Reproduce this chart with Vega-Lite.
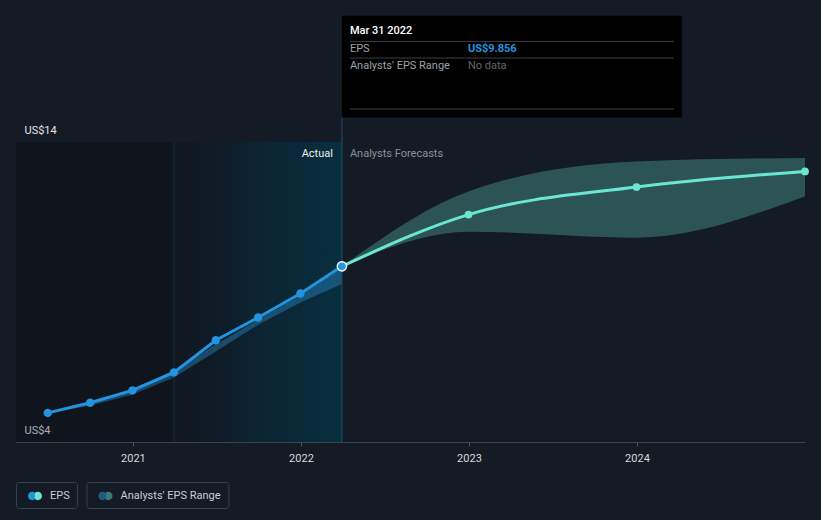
{
  "$schema": "https://vega.github.io/schema/vega-lite/v6.json",
  "width": 789,
  "height": 300,
  "autosize": "none",
  "padding": {"left": 16, "top": 142, "right": 16, "bottom": 78},
  "background": "#151b25",
  "config": {
    "view": {"stroke": null},
    "font": "Roboto",
    "text": {"font": "Roboto"}
  },
  "datasets": {
    "regions": [
      {"start": "2020-04-22", "end": "2021-03-31", "kind": "past"},
      {"start": "2021-03-31", "end": "2022-03-31", "kind": "year"}
    ],
    "eps": [
      {"date": "2020-06-30", "v": 4.97},
      {"date": "2020-09-30", "v": 5.31},
      {"date": "2020-12-31", "v": 5.72},
      {"date": "2021-03-31", "v": 6.32},
      {"date": "2021-06-30", "v": 7.39},
      {"date": "2021-09-30", "v": 8.15},
      {"date": "2021-12-31", "v": 8.95},
      {"date": "2022-03-31", "v": 9.856}
    ],
    "pastband": [
      {"date": "2020-06-30", "lo": 4.97, "hi": 4.97},
      {"date": "2020-09-30", "lo": 5.21, "hi": 5.33},
      {"date": "2020-12-31", "lo": 5.58, "hi": 5.78},
      {"date": "2021-03-31", "lo": 6.15, "hi": 6.38},
      {"date": "2021-06-30", "lo": 7.02, "hi": 7.25},
      {"date": "2021-09-30", "lo": 7.91, "hi": 8.08},
      {"date": "2021-12-31", "lo": 8.65, "hi": 8.88},
      {"date": "2022-03-31", "lo": 9.27, "hi": 9.83}
    ],
    "forecast": [
      {"date": "2022-03-31", "v": 9.856, "series": "EPS", "first": true},
      {"date": "2022-12-31", "v": 11.58, "series": "EPS", "first": false},
      {"date": "2023-12-31", "v": 12.5, "series": "EPS", "first": false},
      {"date": "2024-12-31", "v": 13.02, "series": "EPS", "first": false}
    ],
    "band": [
      {"date": "2022-03-31", "lo": 9.856, "hi": 9.856, "series": "Analysts' EPS Range", "kind": "forecast"},
      {"date": "2022-12-31", "lo": 11.01, "hi": 12.35, "series": "Analysts' EPS Range", "kind": "forecast"},
      {"date": "2023-12-31", "lo": 10.81, "hi": 13.35, "series": "Analysts' EPS Range", "kind": "forecast"},
      {"date": "2024-12-31", "lo": 12.19, "hi": 13.47, "series": "Analysts' EPS Range", "kind": "forecast"}
    ],
    "labels": [
      {"date": "2022-03-31", "text": "Actual", "side": "left"},
      {"date": "2022-03-31", "text": "Analysts Forecasts", "side": "right"}
    ],
    "tip": [
      {"date": "2022-03-31", "eps": 9.856, "title": "Mar 31 2022", "k1": "EPS", "value": "US$9.856", "k2": "Analysts' EPS Range", "range": "No data"}
    ]
  },
  "layer": [
    {
      "data": {"name": "regions"},
      "transform": [{"filter": "datum.kind == 'past'"}],
      "mark": {"type": "rect", "color": "rgba(3,3,8,0.26)"},
      "encoding": {
        "x": {
          "field": "start", "type": "temporal",
          "scale": {"type": "utc", "domain": [1587513600000, 1735603200000]},
          "axis": {
            "values": [1609459200000, 1640995200000, 1672531200000, 1704067200000],
            "format": "%Y", "formatType": "utc", "title": null, "grid": false,
            "domainColor": "#3d434d", "tickColor": "#4a505a", "tickSize": 4,
            "labelColor": "#d5d8dc", "labelFontSize": 11, "labelPadding": 6, "labelFlush": false
          }
        },
        "x2": {"field": "end"},
        "y": {
          "datum": 4, "type": "quantitative",
          "scale": {"domain": [4, 14], "nice": false, "zero": false},
          "axis": {
            "values": [4, 5, 10, 14], "title": null, "domain": false, "ticks": false,
            "labelExpr": "datum.value == 14 ? 'US$14' : datum.value == 4 ? 'US$4' : ''",
            "labelAlign": "left", "labelPadding": -8, "labelBaseline": "middle", "labelOffset": -12,
            "labelColor": "#e3e5e8", "labelFontSize": 11, "labelOverlap": false,
            "gridColor": {"condition": {"test": "datum.value == 4", "value": "transparent"}, "value": "#343a45"}
          }
        },
        "y2": {"datum": 14}
      }
    },
    {
      "data": {"name": "regions"},
      "transform": [{"filter": "datum.kind == 'year'"}],
      "mark": {
        "type": "rect",
        "color": {
          "gradient": "linear", "x1": 0, "x2": 1, "y1": 0, "y2": 0,
          "stops": [
            {"offset": 0, "color": "rgba(0,12,22,0.22)"},
            {"offset": 0.5, "color": "rgba(0,48,66,0.45)"},
            {"offset": 1, "color": "rgba(0,58,76,0.66)"}
          ]
        }
      },
      "encoding": {
        "x": {"field": "start", "type": "temporal"},
        "x2": {"field": "end"},
        "y": {"datum": 4, "type": "quantitative"},
        "y2": {"datum": 14}
      }
    },
    {
      "data": {"name": "regions"},
      "transform": [{"filter": "datum.kind == 'year'"}],
      "mark": {"type": "rule", "color": "#13303e", "strokeWidth": 1},
      "encoding": {
        "x": {"field": "start", "type": "temporal"},
        "y": {"datum": 4, "type": "quantitative"},
        "y2": {"datum": 14}
      }
    },
    {
      "data": {"name": "pastband"},
      "mark": {"type": "area", "color": "#2a84c0", "opacity": 0.45, "interpolate": "linear"},
      "encoding": {
        "x": {"field": "date", "type": "temporal"},
        "y": {"field": "lo", "type": "quantitative"},
        "y2": {"field": "hi"}
      }
    },
    {
      "data": {"name": "band"},
      "mark": {"type": "area", "fillOpacity": 0.3, "interpolate": "monotone"},
      "encoding": {
        "x": {"field": "date", "type": "temporal"},
        "y": {"field": "lo", "type": "quantitative"},
        "y2": {"field": "hi"},
        "fill": {
          "field": "kind", "type": "nominal",
          "scale": {"domain": ["forecast"], "range": ["#68dcc5"]},
          "legend": null
        },
        "opacity": {
          "field": "series", "type": "nominal",
          "scale": {"domain": ["Analysts' EPS Range"], "range": [1]},
          "legend": {
            "title": null, "orient": "none", "legendX": 70.5, "legendY": 340,
            "symbolType": "M-1,0A0.6,0.6,0,1,0,0.2,0A0.6,0.6,0,1,0,-1,0ZM-0.2,0A0.6,0.6,0,1,0,1,0A0.6,0.6,0,1,0,-0.2,0Z",
            "symbolSize": 196, "strokeColor": "#3b414b", "cornerRadius": 3, "padding": 7,
            "fillColor": "#151b25",
            "symbolFillColor": "#3b7a73",
            "labelColor": "#c9ccd1", "labelFontSize": 11, "labelFont": "Roboto", "symbolOffset": 5, "labelOffset": 8,
            "labelExpr": "datum.label + '\u00a0\u00a0\u00a0'",
            "encode": {
              "symbols": {
                "update": {
                  "fill": {"value": {"gradient": "linear", "x1": 0, "x2": 1, "y1": 0, "y2": 0, "stops": [
                    {"offset": 0, "color": "#245a80"}, {"offset": 0.52, "color": "#245a80"},
                    {"offset": 0.52, "color": "#3b7a73"}, {"offset": 1, "color": "#3b7a73"}]}},
                  "stroke": {"value": "transparent"},
                  "strokeWidth": {"value": 0},
                  "fillOpacity": {"value": 1}
                }
              }
            }
          }
        }
      }
    },
    {
      "data": {"name": "eps"},
      "mark": {"type": "line", "color": "#2394df", "strokeWidth": 3},
      "encoding": {
        "x": {"field": "date", "type": "temporal"},
        "y": {"field": "v", "type": "quantitative"}
      }
    },
    {
      "data": {"name": "eps"},
      "mark": {"type": "point", "filled": true, "color": "#2394df", "size": 70, "opacity": 1},
      "encoding": {
        "x": {"field": "date", "type": "temporal"},
        "y": {"field": "v", "type": "quantitative"}
      }
    },
    {
      "data": {"name": "forecast"},
      "mark": {"type": "line", "strokeWidth": 3, "interpolate": "monotone"},
      "encoding": {
        "x": {"field": "date", "type": "temporal"},
        "y": {"field": "v", "type": "quantitative"},
        "stroke": {
          "field": "series", "type": "nominal",
          "scale": {"domain": ["EPS"], "range": ["#6ae6d2"]},
          "legend": {
            "title": null, "orient": "none", "legendX": 0, "legendY": 340,
            "symbolType": "M-1,0A0.6,0.6,0,1,0,0.2,0A0.6,0.6,0,1,0,-1,0ZM-0.2,0A0.6,0.6,0,1,0,1,0A0.6,0.6,0,1,0,-0.2,0Z",
            "symbolSize": 196, "strokeColor": "#3b414b", "cornerRadius": 3, "padding": 7,
            "fillColor": "#151b25",
            "labelColor": "#c9ccd1", "labelFontSize": 11, "labelFont": "Roboto", "symbolOffset": 5, "labelOffset": 8,
            "labelExpr": "datum.label + '\u00a0\u00a0'",
            "encode": {
              "symbols": {
                "update": {
                  "fill": {"value": {"gradient": "linear", "x1": 0, "x2": 1, "y1": 0, "y2": 0, "stops": [
                    {"offset": 0, "color": "#2394df"}, {"offset": 0.52, "color": "#2394df"},
                    {"offset": 0.52, "color": "#6ae6d2"}, {"offset": 1, "color": "#6ae6d2"}]}},
                  "stroke": {"value": "transparent"},
                  "strokeWidth": {"value": 0},
                  "opacity": {"value": 1},
                  "fillOpacity": {"value": 1}
                }
              }
            }
          }
        }
      }
    },
    {
      "data": {"name": "forecast"},
      "transform": [{"filter": "!datum.first"}],
      "mark": {"type": "point", "filled": true, "color": "#6ae6d2", "size": 60, "opacity": 1},
      "encoding": {
        "x": {"field": "date", "type": "temporal"},
        "y": {"field": "v", "type": "quantitative"}
      }
    },
    {
      "data": {"name": "tip"},
      "mark": {"type": "rule", "color": "#1b5267", "strokeWidth": 1, "y2Offset": -24.6},
      "encoding": {
        "x": {"field": "date", "type": "temporal"},
        "y": {"datum": 4, "type": "quantitative"},
        "y2": {"datum": 14}
      }
    },
    {
      "data": {"name": "tip"},
      "mark": {"type": "point", "filled": true, "fill": "#2394df", "stroke": "#ffffff", "strokeWidth": 1.5, "size": 85, "opacity": 1},
      "encoding": {
        "x": {"field": "date", "type": "temporal"},
        "y": {"field": "eps", "type": "quantitative"}
      }
    },
    {
      "data": {"name": "labels"},
      "transform": [{"filter": "datum.side == 'left'"}],
      "mark": {"type": "text", "align": "right", "baseline": "middle", "dx": -9, "dy": 11.7, "fontSize": 11, "color": "#eceef0"},
      "encoding": {
        "x": {"field": "date", "type": "temporal"},
        "y": {"datum": 14, "type": "quantitative"},
        "text": {"field": "text"}
      }
    },
    {
      "data": {"name": "labels"},
      "transform": [{"filter": "datum.side == 'right'"}],
      "mark": {"type": "text", "align": "left", "baseline": "middle", "dx": 8, "dy": 11.7, "fontSize": 11, "color": "#8b9099"},
      "encoding": {
        "x": {"field": "date", "type": "temporal"},
        "y": {"datum": 14, "type": "quantitative"},
        "text": {"field": "text"}
      }
    },
    {
      "data": {"name": "tip"},
      "mark": {"type": "rect", "color": "#000000", "x2Offset": 340, "yOffset": -126.3, "y2Offset": -24.6},
      "encoding": {
        "x": {"field": "date", "type": "temporal"},
        "x2": {"field": "date"},
        "y": {"datum": 14, "type": "quantitative"},
        "y2": {"datum": 14}
      }
    },
    {
      "data": {"name": "tip"},
      "mark": {"type": "rule", "color": "#3a3f47", "xOffset": 8, "x2Offset": 332, "yOffset": -100.6},
      "encoding": {
        "x": {"field": "date", "type": "temporal"},
        "x2": {"field": "date"},
        "y": {"datum": 14, "type": "quantitative"}
      }
    },
    {
      "data": {"name": "tip"},
      "mark": {"type": "rule", "color": "#3a3f47", "xOffset": 8, "x2Offset": 332, "yOffset": -84},
      "encoding": {
        "x": {"field": "date", "type": "temporal"},
        "x2": {"field": "date"},
        "y": {"datum": 14, "type": "quantitative"}
      }
    },
    {
      "data": {"name": "tip"},
      "mark": {"type": "rule", "color": "#3a3f47", "xOffset": 8, "x2Offset": 332, "yOffset": -33},
      "encoding": {
        "x": {"field": "date", "type": "temporal"},
        "x2": {"field": "date"},
        "y": {"datum": 14, "type": "quantitative"}
      }
    },
    {
      "data": {"name": "tip"},
      "mark": {"type": "text", "align": "left", "baseline": "middle", "dx": 8, "dy": -111.3, "fontSize": 11, "fontWeight": 500, "color": "#ffffff"},
      "encoding": {
        "x": {"field": "date", "type": "temporal"},
        "y": {"datum": 14, "type": "quantitative"},
        "text": {"field": "title"}
      }
    },
    {
      "data": {"name": "tip"},
      "mark": {"type": "text", "align": "left", "baseline": "middle", "dx": 8, "dy": -93, "fontSize": 11, "color": "#9da1a8"},
      "encoding": {
        "x": {"field": "date", "type": "temporal"},
        "y": {"datum": 14, "type": "quantitative"},
        "text": {"field": "k1"}
      }
    },
    {
      "data": {"name": "tip"},
      "mark": {"type": "text", "align": "left", "baseline": "middle", "dx": 126, "dy": -93, "fontSize": 11, "fontWeight": "bold", "color": "#2394df"},
      "encoding": {
        "x": {"field": "date", "type": "temporal"},
        "y": {"datum": 14, "type": "quantitative"},
        "text": {"field": "value"}
      }
    },
    {
      "data": {"name": "tip"},
      "mark": {"type": "text", "align": "left", "baseline": "middle", "dx": 8, "dy": -76.3, "fontSize": 11, "color": "#9da1a8"},
      "encoding": {
        "x": {"field": "date", "type": "temporal"},
        "y": {"datum": 14, "type": "quantitative"},
        "text": {"field": "k2"}
      }
    },
    {
      "data": {"name": "tip"},
      "mark": {"type": "text", "align": "left", "baseline": "middle", "dx": 126, "dy": -76.3, "fontSize": 11, "color": "#62676f"},
      "encoding": {
        "x": {"field": "date", "type": "temporal"},
        "y": {"datum": 14, "type": "quantitative"},
        "text": {"field": "range"}
      }
    }
  ]
}
